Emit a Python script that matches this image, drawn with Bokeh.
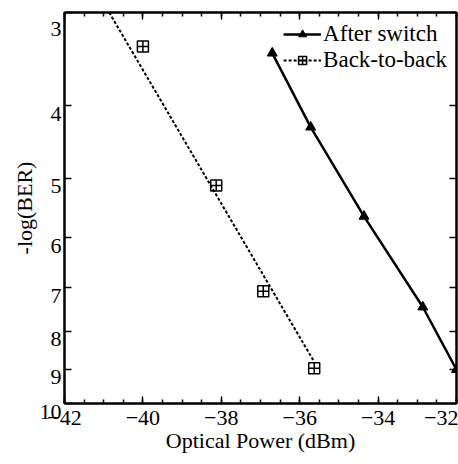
from bokeh.plotting import figure
from bokeh.models import (Range1d, FixedTicker, SingleIntervalTicker, LinearAxis, LogAxis,
                          BasicTickFormatter, Legend, LegendItem)
from bokeh.embed import file_html
from bokeh.resources import INLINE

# Data
after_x = [-36.70, -35.72, -34.36, -32.86, -32.00]
after_y = [3.40, 4.27, 5.62, 7.43, 9.01]
b2b_x = [-40.00, -38.13, -36.93, -35.63]
b2b_y = [3.33, 5.11, 7.08, 8.97]
b2b_fit_x = [-40.86, -35.65]
b2b_fit_y = [3.0, 8.76]
y_ticks = [3, 4, 5, 6, 7, 8, 9, 10]
y_tick_labels = ["3", "4", "5", "6", "7", "8", "9", "10"]

FONT = "Liberation Serif"
FS = "22px"

p = figure(width=458, height=464, output_backend="svg", toolbar_location=None,
           x_range=Range1d(-42, -32), y_range=Range1d(10, 3), y_axis_type="log",
           min_border_left=64, min_border_right=2, min_border_top=12, min_border_bottom=61)

p.xgrid.visible = False
p.ygrid.visible = False
p.outline_line_color = "black"
p.outline_line_width = 2
p.background_fill_color = "white"
p.border_fill_color = "white"

xt = SingleIntervalTicker(interval=2, num_minor_ticks=4)
yt = FixedTicker(ticks=y_ticks, minor_ticks=[])

bottom = p.below[0]
left = p.left[0]
bottom.ticker = xt
left.ticker = yt
left.formatter = BasicTickFormatter()

top = LinearAxis(ticker=xt)
right = LogAxis(ticker=yt)
p.add_layout(top, "above")
p.add_layout(right, "right")

for ax in [bottom, left, top, right]:
    ax.axis_line_width = 2
    ax.axis_line_color = "black"
    ax.major_tick_in = 7
    ax.major_tick_out = 0
    ax.minor_tick_in = 4
    ax.minor_tick_out = 0
    ax.major_tick_line_width = 1.5
    ax.minor_tick_line_width = 1.5
    ax.major_tick_line_color = "black"
    ax.minor_tick_line_color = "black"
    ax.major_label_text_font = FONT
    ax.major_label_text_font_size = FS
    ax.major_label_text_color = "black"
    ax.axis_label_text_font = FONT
    ax.axis_label_text_font_size = FS
    ax.axis_label_text_font_style = "normal"
    ax.axis_label_text_color = "black"

for ax in [top, right]:
    ax.major_label_text_font_size = "1px"
    ax.major_label_text_color = None
    ax.major_label_standoff = 0

bottom.axis_label = "Optical Power (dBm)"
bottom.major_label_standoff = 7
bottom.axis_label_standoff = 0
left.axis_label = "-log(BER)"
left.major_label_standoff = 3
left.axis_label_standoff = 0
# the reference prints each left tick label a little below its tick
left.major_label_overrides = {v: "\n" + t for v, t in zip(y_ticks, y_tick_labels)}
left.major_label_text_line_height = 0.6

after_line = p.line(after_x, after_y, line_color="black", line_width=2.5)
after_pts = p.scatter(after_x, after_y, marker="triangle", size=10,
                      fill_color="black", line_color="black")
b2b_line = p.line(b2b_fit_x, b2b_fit_y, line_color="black", line_width=2, line_dash="3 2")
b2b_pts = p.scatter(b2b_x, b2b_y, marker="square_cross", size=11,
                    fill_color=None, line_color="black", line_width=1.5)

legend = Legend(items=[
    LegendItem(label="After switch", renderers=[after_line, after_pts]),
    LegendItem(label="Back-to-back", renderers=[b2b_line, b2b_pts]),
], location="top_right")
legend.glyph_width = 38
legend.glyph_height = 20
legend.label_height = 20
legend.label_standoff = 2
legend.spacing = 0
legend.padding = 2
legend.margin = 9
legend.border_line_color = None
legend.background_fill_alpha = 0
legend.label_text_font = FONT
legend.label_text_font_size = "23px"
legend.label_text_color = "black"
p.add_layout(legend)

open("out.html", "w").write(file_html(p, INLINE))
